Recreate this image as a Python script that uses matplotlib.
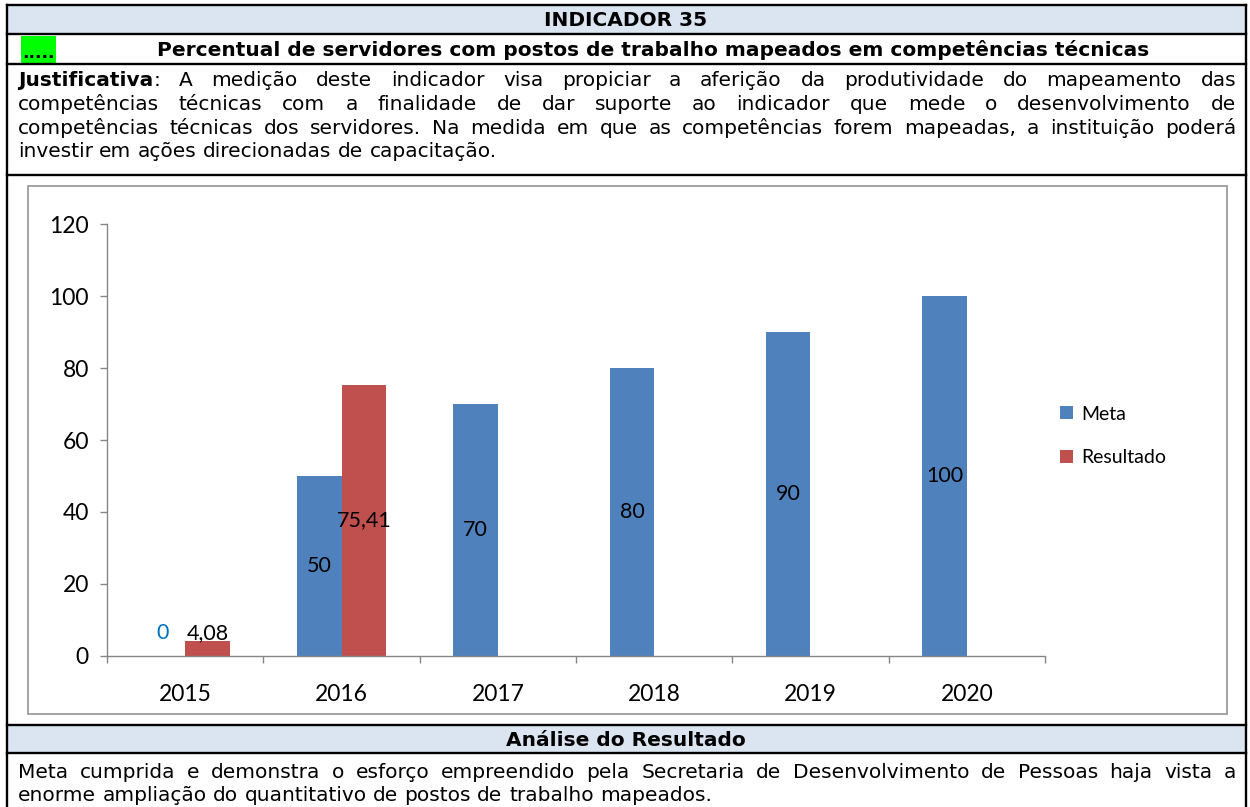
import matplotlib
matplotlib.use("Agg")
import matplotlib.pyplot as plt
import numpy as np
from matplotlib.patches import Rectangle
from matplotlib.lines import Line2D

# ---------------- data ----------------
years = ["2015", "2016", "2017", "2018", "2019", "2020"]
meta = [0, 50, 70, 80, 90, 100]
resultado = [4.08, 75.41, np.nan, np.nan, np.nan, np.nan]
y_ticks = [0, 20, 40, 60, 80, 100, 120]
series_names = ["Meta", "Resultado"]

header_title = "INDICADOR 35"
indicator_name = "Percentual de servidores com postos de trabalho mapeados em competências técnicas"
just_lines = [
    "A medição deste indicador visa propiciar a aferição da produtividade do mapeamento das",
    "competências técnicas com a finalidade de dar suporte ao indicador que mede o desenvolvimento de",
    "competências técnicas dos servidores. Na medida em que as competências forem mapeadas, a instituição poderá",
    "investir em ações direcionadas de capacitação.",
]
analysis_title = "Análise do Resultado"
analysis_lines = [
    "Meta cumprida e demonstra o esforço empreendido pela Secretaria de Desenvolvimento de Pessoas haja vista a",
    "enorme ampliação do quantitativo de postos de trabalho mapeados.",
]

# ---------------- figure ----------------
W, H = 1250, 807
fig = plt.figure(figsize=(W / 100, H / 100), dpi=100)
fig.patch.set_facecolor("white")
bg = fig.add_axes([0, 0, 1, 1])
bg.set_xlim(0, W)
bg.set_ylim(H, 0)
bg.axis("off")
renderer = fig.canvas.get_renderer()

TFONT = "DejaVu Sans"
TSIZE = 14.5
HEAD_BG = "#DBE5F1"

# header backgrounds
bg.add_patch(Rectangle((7, 5), 1239, 28.5, facecolor=HEAD_BG, edgecolor="none", zorder=0))
bg.add_patch(Rectangle((7, 724.5), 1239, 28, facecolor=HEAD_BG, edgecolor="none", zorder=0))
bg.add_patch(Rectangle((21, 35.5), 35, 27.5, facecolor="#00FF00", edgecolor="none", zorder=1))

# table rules
lw = 1.7
for y in [5, 33.5, 63.5, 175, 724.5, 752.5]:
    bg.add_line(Line2D([7, 1246], [y, y], color="black", lw=lw, zorder=3))
for x in [7, 1246]:
    bg.add_line(Line2D([x, x], [5, H], color="black", lw=lw, zorder=3))

# chart frame
bg.add_patch(Rectangle((28, 186), 1199, 528, facecolor="white", edgecolor="#9C9C9C", lw=1.3, zorder=1))

# header texts
bg.text(626, 26.5, header_title, ha="center", va="baseline", fontsize=TSIZE,
        fontweight="bold", family=TFONT)
bg.text(38, 58, ".....", ha="center", va="baseline", fontsize=TSIZE - 2,
        fontweight="bold", family=TFONT)
bg.text(653, 56, indicator_name, ha="center", va="baseline", fontsize=TSIZE,
        fontweight="bold", family=TFONT)
bg.text(626, 746, analysis_title, ha="center", va="baseline", fontsize=TSIZE,
        fontweight="bold", family=TFONT)


def width_of(t):
    return t.get_window_extent(renderer).width


_t1 = bg.text(0, 400, "a a", fontsize=TSIZE, family=TFONT)
_t2 = bg.text(0, 400, "aa", fontsize=TSIZE, family=TFONT)
SPACE = width_of(_t1) - width_of(_t2)
_t1.remove()
_t2.remove()


def place_line(words, y, x0, x1, justify):
    """words: list of lists of (text, weight) segments."""
    objs = []
    widths = []
    for w in words:
        segs = []
        tw = 0
        for s, wt in w:
            t = bg.text(x0, y, s, ha="left", va="baseline", fontsize=TSIZE,
                        fontweight=wt, family=TFONT)
            segs.append(t)
            tw += width_of(t)
        objs.append(segs)
        widths.append(tw)
    if justify and len(words) > 1:
        gap = (x1 - x0 - sum(widths)) / (len(words) - 1)
    else:
        gap = SPACE
    x = x0
    for segs in objs:
        for t in segs:
            t.set_x(x)
            x += width_of(t)
        x += gap


X0, X1 = 18, 1236
base = [86.5, 110, 133.5, 157]
for i, line in enumerate(just_lines):
    words = [[(w, "normal")] for w in line.split(" ")]
    if i == 0:
        words = [[("Justificativa", "bold"), (":", "normal")]] + words
    place_line(words, base[i], X0, X1, justify=(i < 3))

base2 = [777.5, 801]
for i, line in enumerate(analysis_lines):
    words = [[(w, "normal")] for w in line.split(" ")]
    place_line(words, base2[i], X0, X1, justify=(i == 0))

# ---------------- chart ----------------
CFONT = "Lato"
CSIZE = 15.5
TICKSIZE = 16.5
ax_left, ax_right = 107, 1045
y0_px, y120_px = 656, 224
ax = fig.add_axes([ax_left / W, 1 - y0_px / H, (ax_right - ax_left) / W, (y0_px - y120_px) / H])
ax.set_facecolor("none")

x = np.arange(len(years))
bw = 0.285
blue, red = "#4F81BD", "#C0504D"
b1 = ax.bar(x - bw / 2, meta, bw, color=blue, label=series_names[0], zorder=2)
b2 = ax.bar(x + bw / 2, resultado, bw, color=red, label=series_names[1], zorder=2)

ax.set_xlim(-0.5, len(years) - 0.5)
ax.set_ylim(0, 120)
ax.set_yticks(y_ticks)
ax.set_yticklabels([str(v) for v in y_ticks], family=CFONT, fontsize=TICKSIZE)
ax.set_xticks(x)
ax.set_xticklabels(years, family=CFONT, fontsize=TICKSIZE)
ax.set_xticks(np.arange(-0.5, len(years)), minor=True)
ax.tick_params(axis="x", which="major", length=0, pad=20)
ax.tick_params(axis="x", which="minor", length=5, color="#868686", direction="out", width=1)
ax.tick_params(axis="y", which="major", length=5, color="#868686", direction="out", width=1, pad=8)
for s in ["top", "right"]:
    ax.spines[s].set_visible(False)
for s in ["left", "bottom"]:
    ax.spines[s].set_color("#868686")
    ax.spines[s].set_linewidth(1)


def fmt(v):
    return f"{v:.2f}".replace(".", ",") if v != int(v) else str(int(v))


for xi, v in zip(x, meta):
    if v >= 10:
        ax.text(xi - bw / 2, v / 2, fmt(v), ha="center", va="center", fontsize=CSIZE,
                family=CFONT, color="black", zorder=3)
    else:
        ax.text(xi - bw / 2, 4.6, fmt(v), ha="center", va="baseline", fontsize=CSIZE,
                family=CFONT, color="#0070C0", zorder=3)
for xi, v in zip(x, resultado):
    if np.isnan(v):
        continue
    if v >= 10:
        ax.text(xi + bw / 2, v / 2, fmt(v), ha="center", va="center", fontsize=CSIZE,
                family=CFONT, color="black", zorder=3)
    else:
        ax.text(xi + bw / 2, 4.6, fmt(v), ha="center", va="baseline", fontsize=CSIZE,
                family=CFONT, color="black", zorder=3)

leg = ax.legend(loc="center left", bbox_to_anchor=(1060 / W, 1 - 436 / H),
                bbox_transform=fig.transFigure, frameon=False, borderpad=0, borderaxespad=0,
                handlelength=0.68, handleheight=0.68, handletextpad=0.4, labelspacing=1.38,
                prop={"family": CFONT, "size": 14})

fig.savefig("out.png", dpi=100)
